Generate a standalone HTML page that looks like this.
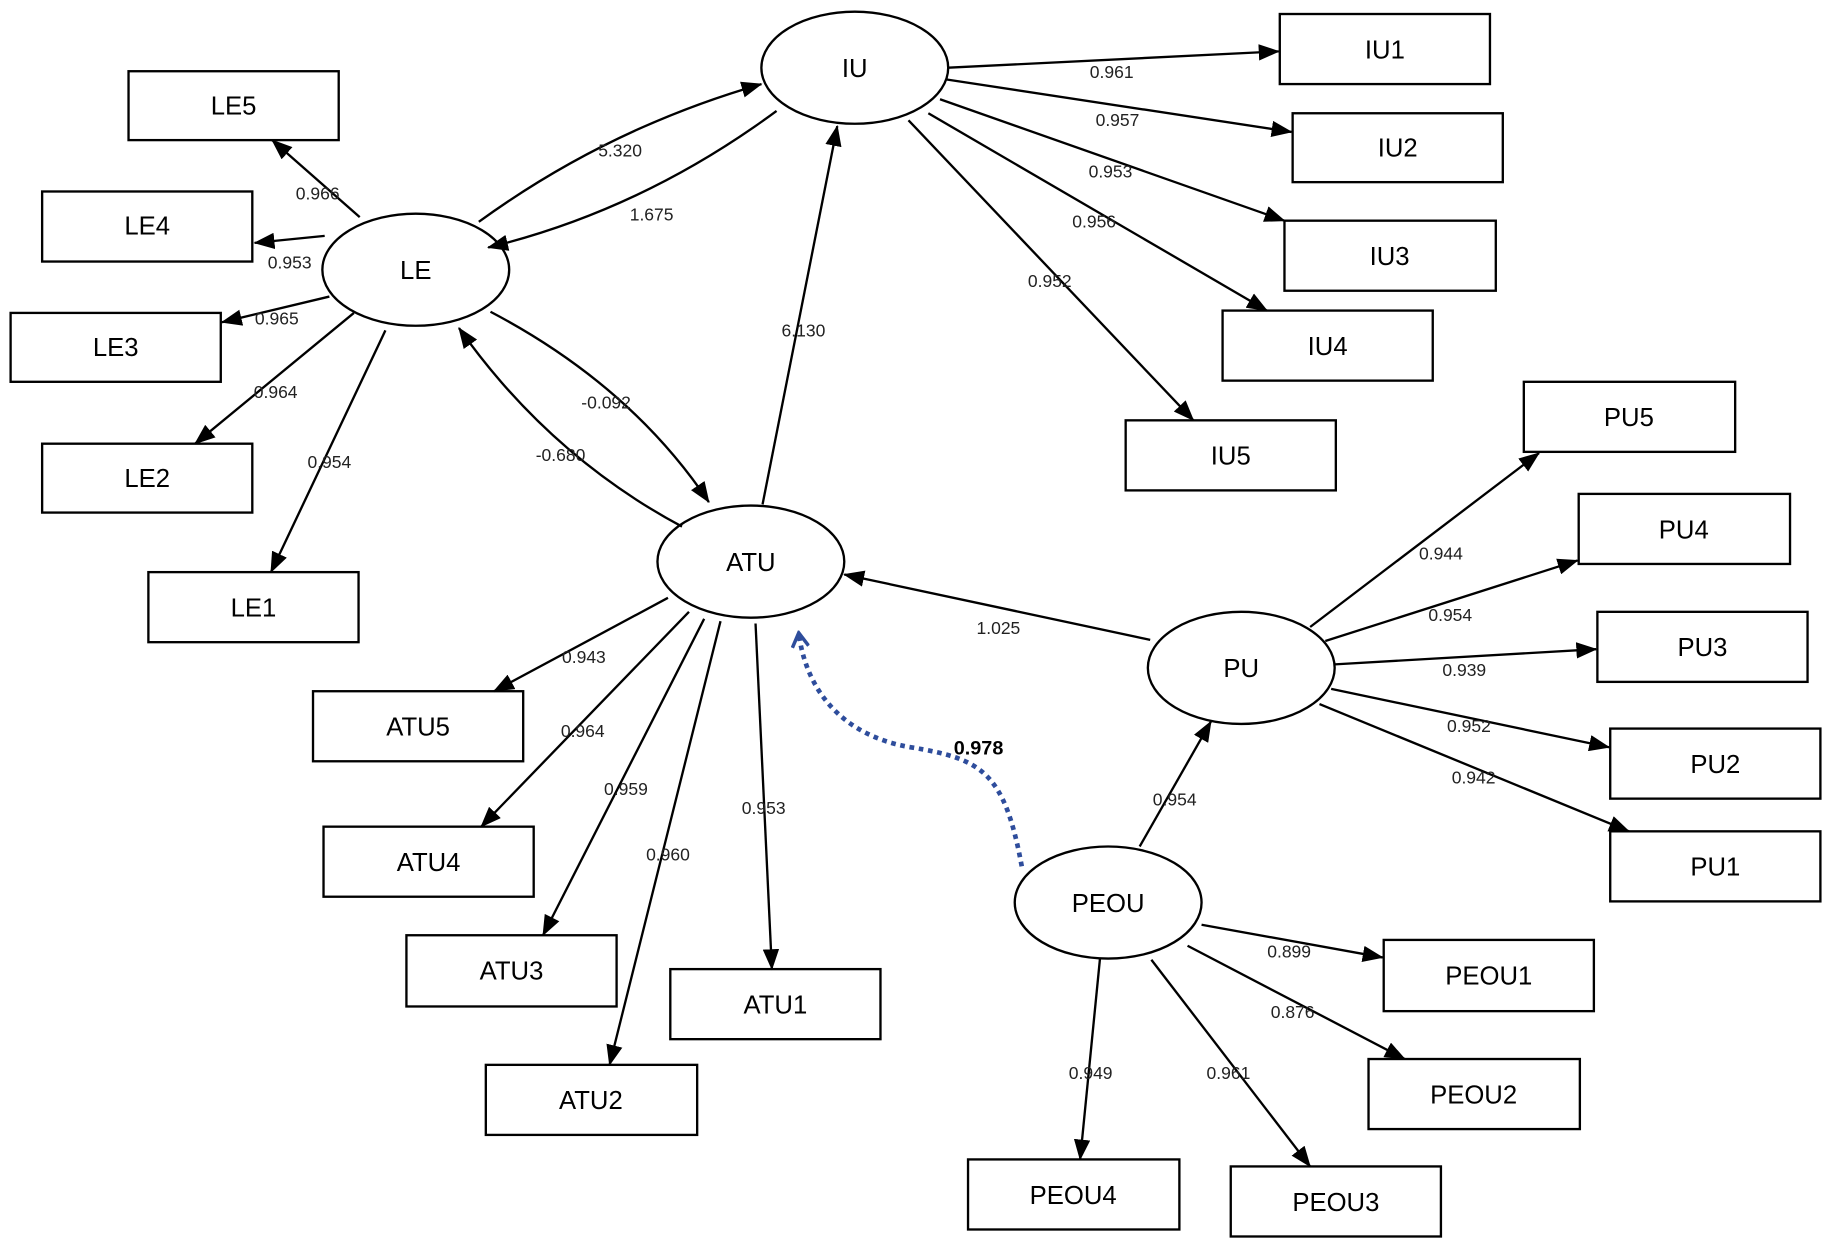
<!DOCTYPE html>
<html><head><meta charset="utf-8"><style>html,body{margin:0;padding:0;background:#fff}svg{display:block}</style></head><body>
<svg width="1831" height="1247" viewBox="0 0 1568 1068" xmlns="http://www.w3.org/2000/svg" font-family="Liberation Sans, sans-serif">
<defs>
<marker id="a" markerWidth="10" markerHeight="10" refX="9" refY="5" orient="auto" markerUnits="userSpaceOnUse" viewBox="0 0 10 10"><path d="M0,0 L10,5 L0,10 z" fill="#000" transform="scale(1)"/></marker>
<marker id="b" markerWidth="18" markerHeight="14" refX="17" refY="7" orient="auto" markerUnits="userSpaceOnUse"><path d="M0,0 L18,7 L0,14 z" fill="#000"/></marker>
<marker id="c" markerWidth="16" markerHeight="16" refX="14" refY="8" orient="auto" markerUnits="userSpaceOnUse"><path d="M2,1 L14,8 L2,15" fill="none" stroke="#2e4d9c" stroke-width="3"/></marker>
</defs>
<g fill="#fff" stroke="#000" stroke-width="2">
<rect x="110" y="61" width="180" height="59"/><rect x="36" y="164" width="180" height="60"/><rect x="9" y="268" width="180" height="59"/><rect x="36" y="380" width="180" height="59"/><rect x="127" y="490" width="180" height="60"/>
<rect x="1096" y="12" width="180" height="60"/><rect x="1107" y="97" width="180" height="59"/><rect x="1100" y="189" width="181" height="60"/><rect x="1047" y="266" width="180" height="60"/><rect x="964" y="360" width="180" height="60"/>
<rect x="1305" y="327" width="181" height="60"/><rect x="1352" y="423" width="181" height="60"/><rect x="1368" y="524" width="180" height="60"/><rect x="1379" y="624" width="180" height="60"/><rect x="1379" y="712" width="180" height="60"/>
<rect x="1185" y="805" width="180" height="61"/><rect x="1172" y="907" width="181" height="60"/><rect x="1054" y="999" width="180" height="60"/><rect x="829" y="993" width="181" height="60"/>
<rect x="268" y="592" width="180" height="60"/><rect x="277" y="708" width="180" height="60"/><rect x="348" y="801" width="180" height="61"/><rect x="416" y="912" width="181" height="60"/><rect x="574" y="830" width="180" height="60"/>
<ellipse cx="732" cy="58" rx="80" ry="48"/><ellipse cx="356" cy="231" rx="80" ry="48"/><ellipse cx="643" cy="481" rx="80" ry="48"/><ellipse cx="1063" cy="572" rx="80" ry="48"/><ellipse cx="949" cy="773" rx="80" ry="48"/>
</g>
<g stroke="#000" stroke-width="2" fill="none" marker-end="url(#b)">
<line x1="308" y1="186" x2="233" y2="120"/><line x1="278" y1="202" x2="218" y2="208"/><line x1="282" y1="254" x2="190" y2="276"/><line x1="303" y1="268" x2="167" y2="380"/><line x1="330" y1="283" x2="232" y2="490"/>
<path d="M410,190 Q520,110 652,72"/><path d="M665,95 Q550,180 418,212"/>
<path d="M420,267 Q540,330 607,430"/><path d="M584,451 Q470,390 393,281"/>
<line x1="653" y1="432" x2="717" y2="108"/>
<line x1="812" y1="58" x2="1095" y2="44"/><line x1="810" y1="68" x2="1106" y2="113"/><line x1="805" y1="85" x2="1100" y2="189"/><line x1="795" y1="97" x2="1085" y2="266"/><line x1="778" y1="103" x2="1022" y2="360"/>
<line x1="985" y1="548" x2="723" y2="492"/>
<line x1="1122" y1="537" x2="1318" y2="388"/><line x1="1135" y1="549" x2="1351" y2="480"/><line x1="1143" y1="569" x2="1367" y2="556"/><line x1="1140" y1="590" x2="1378" y2="640"/><line x1="1130" y1="603" x2="1395" y2="712"/>
<line x1="976" y1="725" x2="1037" y2="618"/><line x1="1029" y1="792" x2="1184" y2="820"/><line x1="1017" y1="810" x2="1203" y2="907"/><line x1="986" y1="822" x2="1122" y2="999"/><line x1="942" y1="821" x2="925" y2="993"/>
<line x1="572" y1="512" x2="423" y2="592"/><line x1="590" y1="524" x2="412" y2="708"/><line x1="603" y1="530" x2="465" y2="801"/><line x1="617" y1="532" x2="522" y2="912"/><line x1="647" y1="534" x2="661" y2="830"/>
</g>
<path d="M875,742 C860,660 840,650 780,640 C720,630 690,590 684,542" fill="none" stroke="#2e4d9c" stroke-width="4" stroke-dasharray="4,4" marker-end="url(#c)"/>
<g font-size="22" text-anchor="middle" fill="#000">
<text x="200" y="98">LE5</text><text x="126" y="201">LE4</text><text x="99" y="305">LE3</text><text x="126" y="417">LE2</text><text x="217" y="528">LE1</text>
<text x="1186" y="50">IU1</text><text x="1197" y="134">IU2</text><text x="1190" y="227">IU3</text><text x="1137" y="304">IU4</text><text x="1054" y="398">IU5</text>
<text x="1395" y="365">PU5</text><text x="1442" y="461">PU4</text><text x="1458" y="562">PU3</text><text x="1469" y="662">PU2</text><text x="1469" y="750">PU1</text>
<text x="1275" y="843">PEOU1</text><text x="1262" y="945">PEOU2</text><text x="1144" y="1037">PEOU3</text><text x="919" y="1031">PEOU4</text>
<text x="358" y="630">ATU5</text><text x="367" y="746">ATU4</text><text x="438" y="839">ATU3</text><text x="506" y="950">ATU2</text><text x="664" y="868">ATU1</text>
<text x="732" y="66">IU</text><text x="356" y="239">LE</text><text x="643" y="489">ATU</text><text x="1063" y="580">PU</text><text x="949" y="781">PEOU</text>
</g>
<g font-size="15" text-anchor="middle" fill="#222">
<text x="272" y="171">0.966</text><text x="248" y="230">0.953</text><text x="237" y="278">0.965</text><text x="236" y="341">0.964</text><text x="282" y="401">0.954</text>
<text x="531" y="134">5.320</text><text x="558" y="189">1.675</text><text x="519" y="350">-0.092</text><text x="480" y="395">-0.680</text><text x="688" y="288">6.130</text>
<text x="952" y="67">0.961</text><text x="957" y="108">0.957</text><text x="951" y="152">0.953</text><text x="937" y="195">0.956</text><text x="899" y="246">0.952</text>
<text x="855" y="543">1.025</text>
<text x="1234" y="479">0.944</text><text x="1242" y="532">0.954</text><text x="1254" y="579">0.939</text><text x="1258" y="627">0.952</text><text x="1262" y="671">0.942</text>
<text x="1006" y="690">0.954</text><text x="1104" y="820">0.899</text><text x="1107" y="872">0.876</text><text x="1052" y="924">0.961</text><text x="934" y="924">0.949</text>
<text x="500" y="568">0.943</text><text x="499" y="631">0.964</text><text x="536" y="681">0.959</text><text x="572" y="737">0.960</text><text x="654" y="697">0.953</text>
</g>
<text x="838" y="646" font-size="17" font-weight="bold" text-anchor="middle">0.978</text>
</svg>
</body></html>
